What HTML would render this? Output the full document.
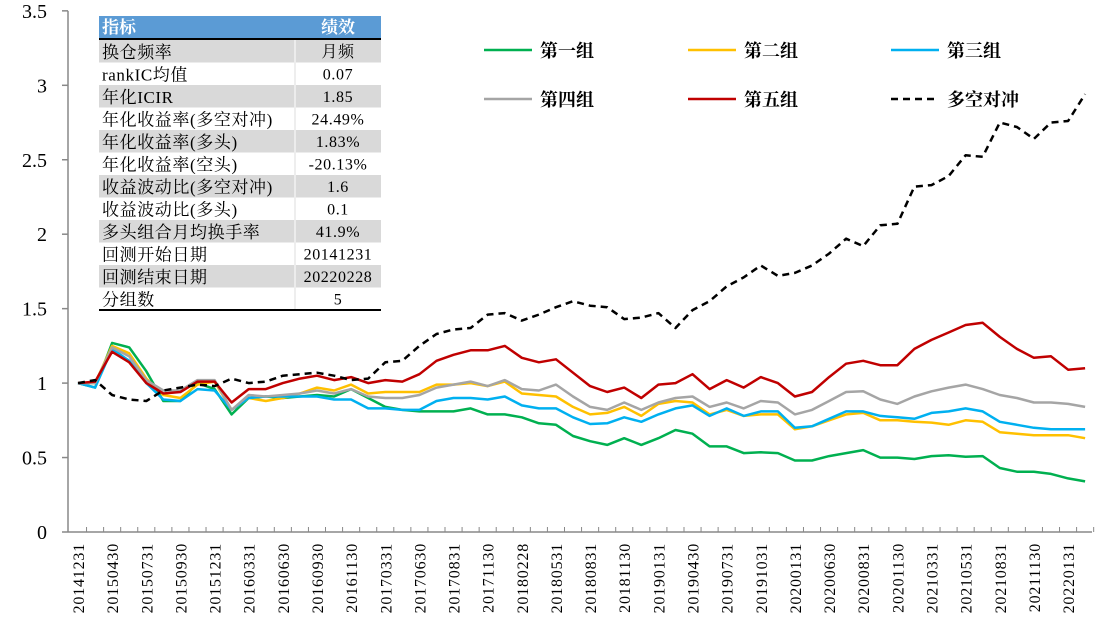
<!DOCTYPE html>
<html><head><meta charset="utf-8"><style>
body{margin:0;background:#fff;}
svg{display:block;}
.t{font-family:"Liberation Serif","Noto Serif CJK SC",serif;}
</style></head><body>
<svg id="chart" width="1104" height="618"></svg>
<script>
const labels=["20141231","20150430","20150731","20150930","20151231","20160331","20160630","20160930","20161130","20170331","20170630","20170831","20171130","20180228","20180531","20180831","20181130","20190131","20190430","20190731","20191031","20200131","20200630","20200831","20201130","20210331","20210531","20210831","20211130","20220131"];
const yTicks=[0,0.5,1,1.5,2,2.5,3,3.5];
const yTickText=["0","0.5","1","1.5","2","2.5","3","3.5"];
const g1=[1,0.97,1.27,1.24,1.08,0.88,0.88,1.0,0.96,0.79,0.9,0.91,0.9,0.91,0.92,0.91,0.96,0.9,0.84,0.82,0.81,0.81,0.81,0.83,0.79,0.79,0.77,0.73,0.72,0.645,0.61,0.585,0.63,0.585,0.63,0.685,0.66,0.575,0.575,0.53,0.535,0.53,0.48,0.48,0.51,0.53,0.55,0.5,0.5,0.49,0.51,0.515,0.505,0.51,0.43,0.405,0.405,0.39,0.36,0.34];
const g2=[1,1.0,1.25,1.2,1.03,0.92,0.9,0.99,1.01,0.82,0.9,0.88,0.9,0.93,0.97,0.95,0.99,0.93,0.94,0.94,0.94,0.99,0.99,1.0,0.98,1.01,0.93,0.92,0.91,0.84,0.79,0.8,0.84,0.78,0.86,0.88,0.87,0.79,0.82,0.78,0.79,0.79,0.69,0.71,0.75,0.79,0.8,0.75,0.75,0.74,0.735,0.72,0.75,0.74,0.67,0.66,0.65,0.65,0.65,0.63];
const g3=[1,0.97,1.23,1.15,1.0,0.89,0.88,0.96,0.95,0.82,0.9,0.91,0.91,0.91,0.91,0.89,0.89,0.83,0.83,0.82,0.82,0.88,0.9,0.9,0.89,0.91,0.85,0.83,0.83,0.77,0.725,0.73,0.77,0.74,0.79,0.83,0.85,0.78,0.83,0.78,0.81,0.81,0.7,0.71,0.76,0.81,0.81,0.78,0.77,0.76,0.8,0.81,0.83,0.81,0.74,0.72,0.7,0.69,0.69,0.69];
const g4=[1,1.0,1.24,1.18,1.02,0.95,0.95,1.02,1.02,0.82,0.92,0.91,0.92,0.93,0.95,0.93,0.96,0.91,0.9,0.9,0.92,0.97,0.99,1.01,0.98,1.02,0.96,0.95,0.99,0.91,0.84,0.82,0.87,0.82,0.87,0.9,0.91,0.84,0.87,0.83,0.88,0.87,0.79,0.82,0.88,0.94,0.945,0.89,0.86,0.91,0.945,0.97,0.99,0.96,0.92,0.9,0.87,0.87,0.86,0.84];
const g5=[1,1.01,1.21,1.14,1.0,0.93,0.94,1.01,1.01,0.87,0.96,0.96,1.0,1.03,1.05,1.02,1.04,1.0,1.02,1.01,1.06,1.15,1.19,1.22,1.22,1.25,1.17,1.14,1.16,1.07,0.98,0.94,0.97,0.9,0.99,1.0,1.06,0.96,1.02,0.97,1.04,1.0,0.91,0.94,1.04,1.13,1.15,1.12,1.12,1.23,1.29,1.34,1.39,1.405,1.31,1.23,1.17,1.18,1.09,1.1];
const ls=[1,1.02,0.92,0.89,0.88,0.95,0.97,0.99,0.98,1.03,1.0,1.01,1.05,1.06,1.07,1.05,1.02,1.03,1.14,1.15,1.25,1.33,1.36,1.37,1.46,1.47,1.42,1.46,1.51,1.55,1.52,1.51,1.43,1.44,1.47,1.37,1.49,1.55,1.65,1.71,1.79,1.72,1.74,1.79,1.87,1.97,1.92,2.06,2.07,2.32,2.33,2.39,2.53,2.52,2.75,2.72,2.64,2.75,2.76,2.94];
const seriesNames=["第一组","第二组","第三组","第四组","第五组","多空对冲"];
const tableRows=[["换仓频率","月频"],["rankIC均值","0.07"],["年化ICIR","1.85"],["年化收益率(多空对冲)","24.49%"],["年化收益率(多头)","1.83%"],["年化收益率(空头)","-20.13%"],["收益波动比(多空对冲)","1.6"],["收益波动比(多头)","0.1"],["多头组合月均换手率","41.9%"],["回测开始日期","20141231"],["回测结束日期","20220228"],["分组数","5"]];

const NS="http://www.w3.org/2000/svg";
const svg=document.getElementById('chart');
function mk(tag,attrs,parent){const e=document.createElementNS(NS,tag);for(const k in attrs)e.setAttribute(k,attrs[k]);(parent||svg).appendChild(e);return e;}
const x0=78,dx=17.07,yBase=532,yScale=148.9;
const X=i=>x0+i*dx;
const Y=v=>yBase-v*yScale;

let a=mk('line',{x1:68,y1:Y(3.5),x2:68,y2:532,stroke:'#888','stroke-width':1.5});


a=mk('line',{x1:68,y1:532,x2:1092,y2:532,stroke:'#888','stroke-width':1.5});


for(let i=0;i<g1.length;i++){
  const tk=mk('line',{x1:X(i)+dx/2,y1:527,x2:X(i)+dx/2,y2:532,stroke:'#888','stroke-width':1});
  
  
}
yTicks.forEach((v,i)=>{
  const tk=mk('line',{x1:62,y1:Y(v),x2:68,y2:Y(v),stroke:'#888','stroke-width':1.5});
  
  
  const t=mk('text',{x:47,y:Y(v)+7,'text-anchor':'end','font-size':20,class:'t',fill:'#000'});
  t.textContent=yTickText[i];
  
  
});
labels.forEach((l,i)=>{
  const x=X(i*2);
  const t=mk('text',{x:0,y:0,transform:`translate(${x+6},543) rotate(-90)`,'text-anchor':'end','font-size':16,'letter-spacing':0.8,class:'t',fill:'#000'});
  t.textContent=l;
  
  
});
const all=[[g1,'#00b050',''],[g2,'#ffc000',''],[g3,'#00b0f0',''],[g4,'#a5a5a5',''],[g5,'#c00000',''],[ls,'#000','7,5']];
all.forEach((s,k)=>{
  const d=s[0].map((v,i)=>(i?'L':'M')+X(i).toFixed(1)+','+Y(v).toFixed(1)).join('');
  const p=mk('path',{d:d,fill:'none',stroke:s[1],'stroke-width':2.5,'stroke-dasharray':s[2],'stroke-linejoin':'round'});
  
  
});
const lp=[[484,50],[688,50],[891,50],[484,99],[688,99],[891,99]];
all.forEach((s,k)=>{
  const [lx,ly]=lp[k];
  const g=mk('g',{});
  
  
  mk('line',{x1:lx,y1:ly,x2:lx+48,y2:ly,stroke:s[1],'stroke-width':2.5,'stroke-dasharray':s[2]},g);
  const t=mk('text',{x:lx+56,y:ly+7,'font-size':18,'font-weight':'bold',class:'t',fill:'#000'},g);
  t.textContent=seriesNames[k];
});
const tb=mk('g',{});


const tx=99,tw=282,cx=295,rh=22.5,ty=16;
mk('rect',{x:tx,y:ty,width:tw,height:22,fill:'#5b9bd5'},tb);
let h=mk('text',{x:tx+3,y:ty+17,'font-size':17,'font-weight':'bold',class:'t',fill:'#fff'},tb);h.textContent='指标';
h=mk('text',{x:338,y:ty+17,'font-size':17,'font-weight':'bold','text-anchor':'middle',class:'t',fill:'#fff'},tb);h.textContent='绩效';
mk('line',{x1:tx,y1:ty+23,x2:tx+tw,y2:ty+23,stroke:'#000','stroke-width':2},tb);
tableRows.forEach((r,i)=>{
  const y=ty+24+i*rh;
  mk('rect',{x:tx,y:y,width:tw,height:rh,fill:i%2==0?'#d9d9d9':'#fff'},tb);
  mk('line',{x1:cx,y1:y,x2:cx,y2:y+rh,stroke:i%2==0?'#fff':'#ddd','stroke-width':1},tb);
  const a1=mk('text',{x:tx+3,y:y+18,'font-size':17,'letter-spacing':0.6,class:'t',fill:'#000'},tb);a1.textContent=r[0];
  const a2=mk('text',{x:338,y:y+17,'font-size':16,'letter-spacing':0.6,'text-anchor':'middle',class:'t',fill:'#000'},tb);a2.textContent=r[1];
});
mk('line',{x1:tx,y1:ty+24+12*rh,x2:tx+tw,y2:ty+24+12*rh,stroke:'#000','stroke-width':2},tb);
</script>
</body></html>
